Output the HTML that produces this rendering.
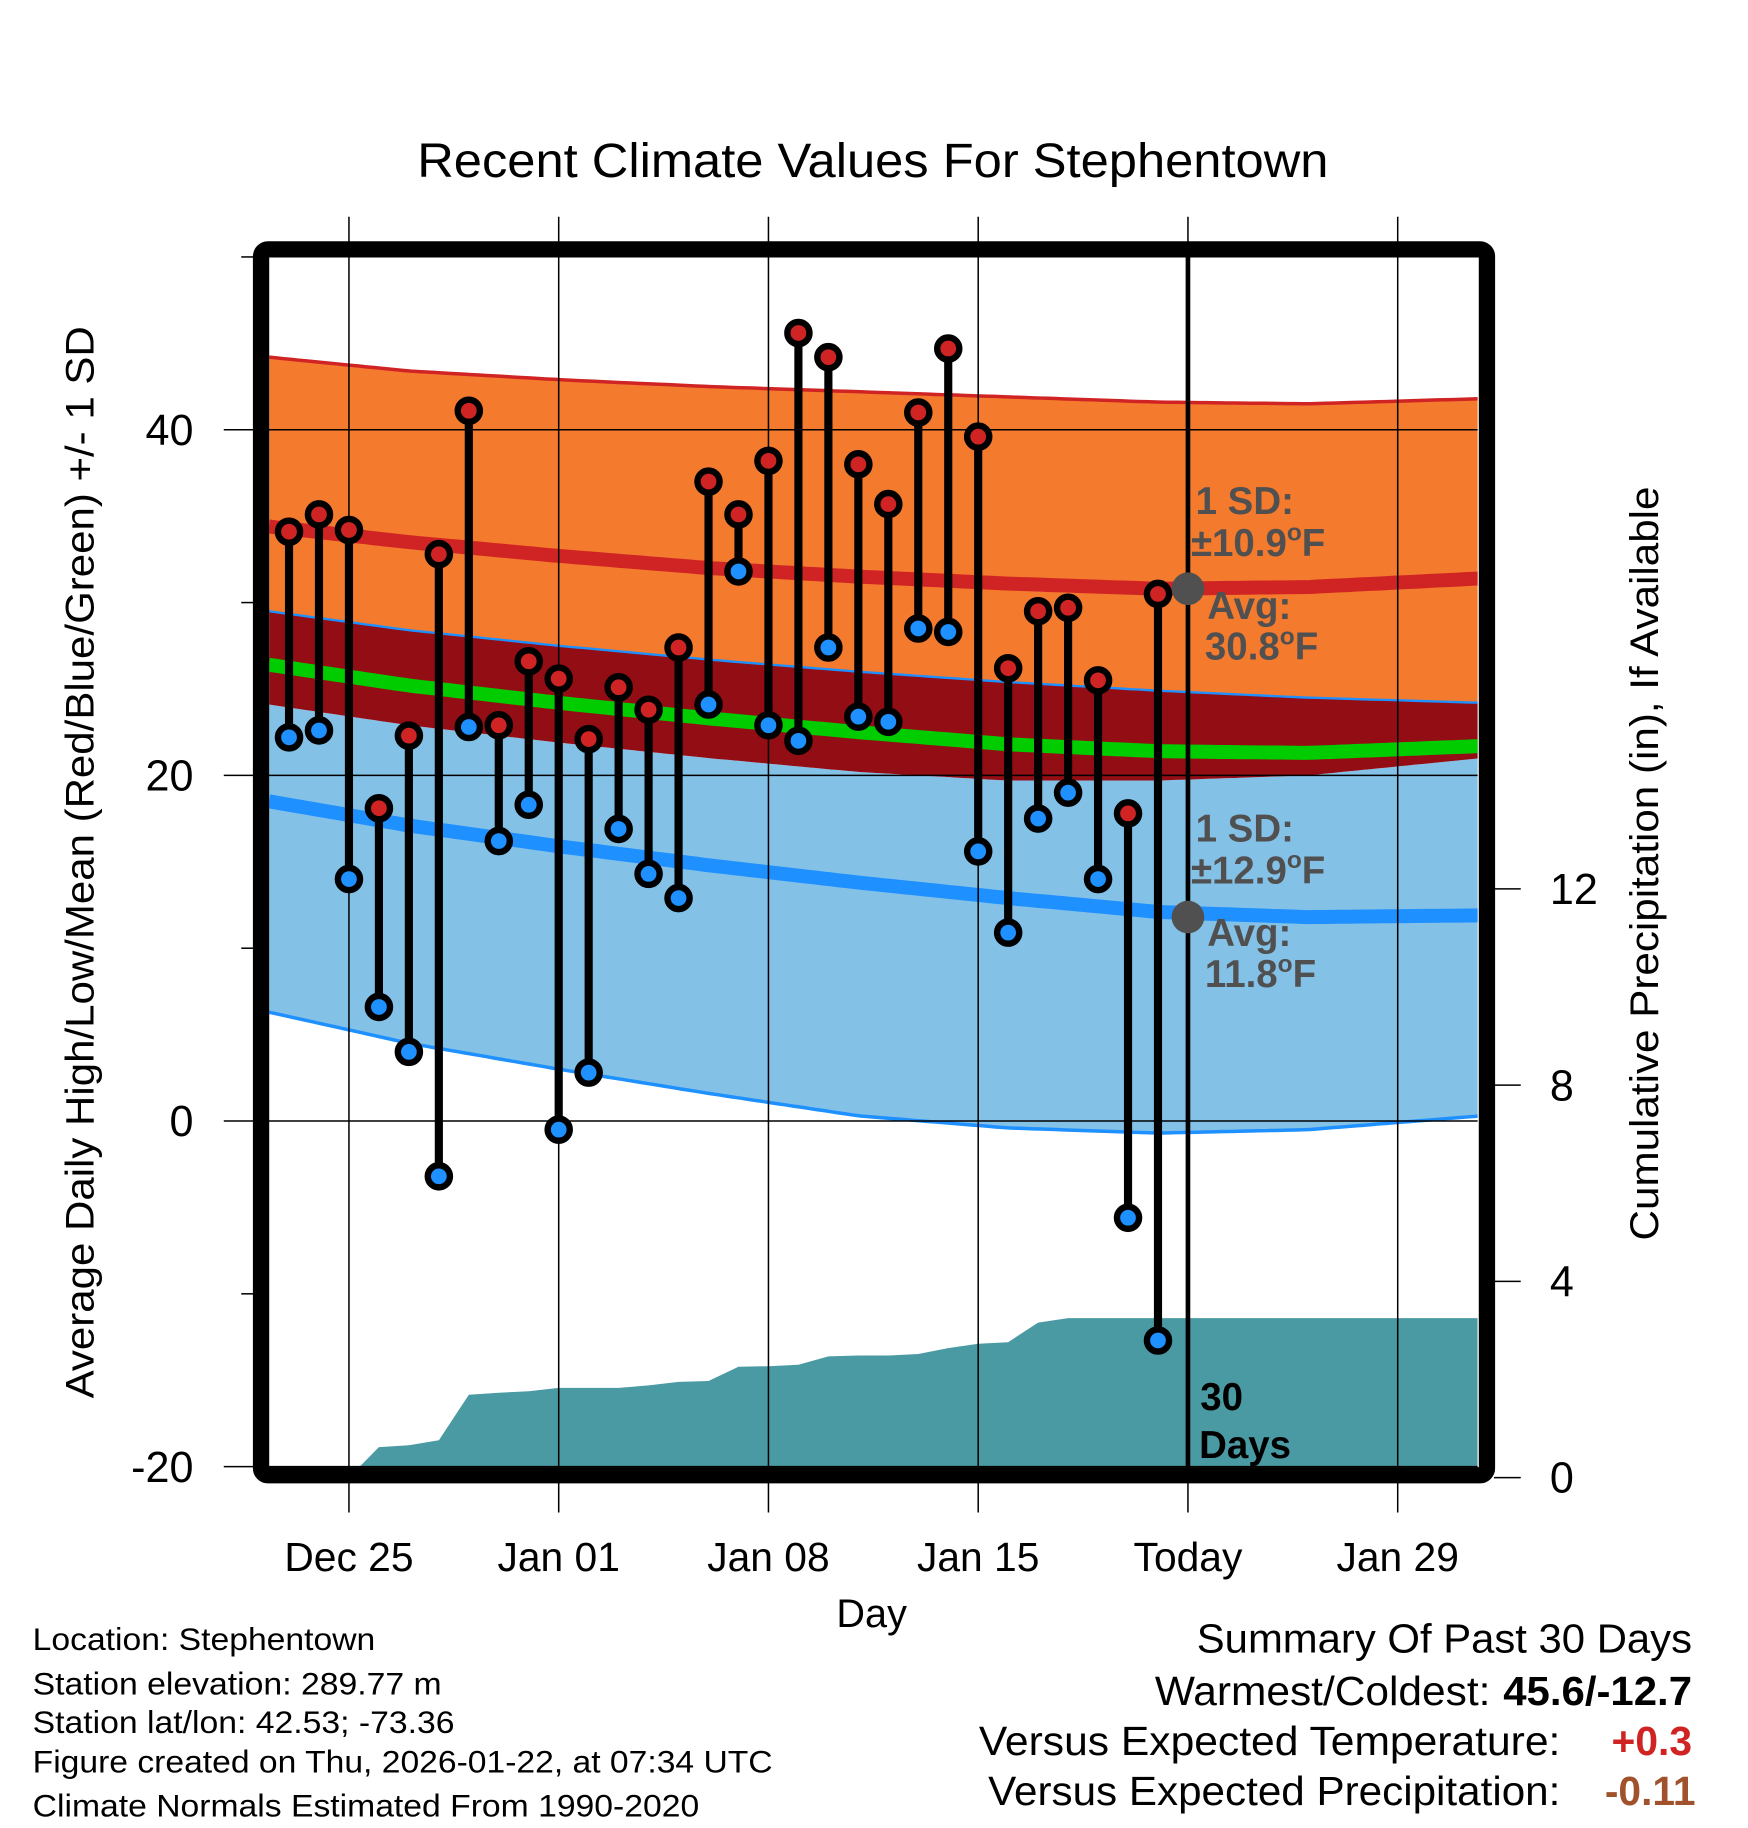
<!DOCTYPE html>
<html><head><meta charset="utf-8"><style>html,body{margin:0;padding:0;background:#fff}svg{display:block}text{font-family:"Liberation Sans",sans-serif}</style></head>
<body>
<svg id="chart" width="1748" height="1828" viewBox="0 0 1500 1568.7" xmlns="http://www.w3.org/2000/svg">
<defs><clipPath id="plotclip"><rect x="231" y="221" width="1037" height="1038"/></clipPath></defs>
<text x="749" y="152" font-size="41" text-anchor="middle" textLength="782" lengthAdjust="spacingAndGlyphs">Recent Climate Values For Stephentown</text>
<g id="gbands" clip-path="url(#plotclip)"></g>
<g id="ggrid"></g>
<g id="gmarks"></g>
<g id="gannot"></g>
<rect x="224" y="214" width="1052" height="1052" rx="6" fill="none" stroke="#000" stroke-width="14"/>
<g id="gaxes"></g>
<text transform="translate(80,740) rotate(-90)" font-size="34" text-anchor="middle" textLength="920" lengthAdjust="spacingAndGlyphs">Average Daily High/Low/Mean (Red/Blue/Green) +/- 1 SD</text>
<text transform="translate(1423,741) rotate(-90)" font-size="34" text-anchor="middle" textLength="647" lengthAdjust="spacingAndGlyphs">Cumulative Precipitation (in), If Available</text>
<text x="748" y="1396" font-size="34" text-anchor="middle">Day</text>
<g font-size="27">
<text x="28" y="1416" textLength="294" lengthAdjust="spacingAndGlyphs">Location: Stephentown</text>
<text x="28" y="1454" textLength="351" lengthAdjust="spacingAndGlyphs">Station elevation: 289.77 m</text>
<text x="28" y="1487" textLength="362" lengthAdjust="spacingAndGlyphs">Station lat/lon: 42.53; -73.36</text>
<text x="28" y="1521" textLength="635" lengthAdjust="spacingAndGlyphs">Figure created on Thu, 2026-01-22, at 07:34 UTC</text>
<text x="28" y="1559" textLength="572" lengthAdjust="spacingAndGlyphs">Climate Normals Estimated From 1990-2020</text>
</g>
<g font-size="35">
<text x="1027" y="1418" textLength="425" lengthAdjust="spacingAndGlyphs">Summary Of Past 30 Days</text>
<text x="991" y="1463" textLength="288" lengthAdjust="spacingAndGlyphs">Warmest/Coldest:</text>
<text x="1290" y="1463" font-weight="bold" textLength="162" lengthAdjust="spacingAndGlyphs">45.6/-12.7</text>
<text x="840" y="1506" textLength="499" lengthAdjust="spacingAndGlyphs">Versus Expected Temperature:</text>
<text x="1452" y="1506" fill="#d02424" font-weight="bold" text-anchor="end">+0.3</text>
<text x="848" y="1549" textLength="491" lengthAdjust="spacingAndGlyphs">Versus Expected Precipitation:</text>
<text x="1455" y="1549" fill="#a0522d" font-weight="bold" text-anchor="end">-0.11</text>
</g>
</svg>
<script>
// data
const dayLabels = ["Dec 23","Dec 24","Dec 25","Dec 26","Dec 27","Dec 28","Dec 29","Dec 30","Dec 31","Jan 01","Jan 02","Jan 03","Jan 04","Jan 05","Jan 06","Jan 07","Jan 08","Jan 09","Jan 10","Jan 11","Jan 12","Jan 13","Jan 14","Jan 15","Jan 16","Jan 17","Jan 18","Jan 19","Jan 20","Jan 21"];
const highs = [34.1,35.1,34.2,18.1,22.3,32.8,41.1,22.9,26.6,25.6,22.1,25.1,23.8,27.4,37.0,35.1,38.2,45.6,44.2,38.0,35.7,41.0,44.7,39.6,26.2,29.5,29.7,25.5,17.8,30.5];
const lows = [22.2,22.6,14.0,6.6,4.0,-3.2,22.8,16.2,18.3,-0.5,2.8,16.9,14.3,12.9,24.1,31.8,22.9,22.0,27.4,23.4,23.1,28.5,28.3,15.6,10.9,17.5,19.0,14.0,-5.6,-12.7];
const precip = [0,0,0,0.62,0.66,0.76,1.69,1.73,1.76,1.83,1.83,1.83,1.88,1.95,1.97,2.26,2.27,2.30,2.47,2.49,2.49,2.52,2.64,2.73,2.76,3.16,3.25,3.25,3.25,3.25];
const normDays = [-0.67,4,9,14,19,24,29,34,39.8];
const highPlus = [44.2,43.4,42.9,42.5,42.2,41.9,41.6,41.5,41.8];
const highMean = [34.4,33.5,32.7,32.0,31.5,31.1,30.8,30.9,31.4];
const highMinus = [29.5,28.4,27.5,26.7,26.0,25.4,24.9,24.5,24.2];
const meanNorm = [26.4,25.2,24.2,23.3,22.5,21.8,21.4,21.3,21.7];
const lowPlus = [24.1,22.9,21.9,21.0,20.2,19.7,19.7,20.0,21.0];
const lowMean = [18.5,17.1,15.9,14.8,13.8,12.9,12.1,11.8,11.9];
const lowMinus = [6.3,4.5,3.0,1.6,0.3,-0.4,-0.7,-0.5,0.3];
const yTicks = [-20,0,20,40];
const yMinor = [-10,10,30,50];
const y2Ticks = [0,4,8,12];
const xTickDays = [2,9,16,23,30,37];
const xTickLabels = ["Dec 25","Jan 01","Jan 08","Jan 15","Today","Jan 29"];

const NS="http://www.w3.org/2000/svg";
const X = d => 248 + d*25.714;
const Y = t => 962 - t*14.83;
const Y2 = p => 1268 - p*42.1;
function mk(tag, attrs, parent){const e=document.createElementNS(NS,tag);for(const k in attrs)e.setAttribute(k,attrs[k]);parent.appendChild(e);return e;}
const gb=document.getElementById('gbands'),gg=document.getElementById('ggrid'),gm=document.getElementById('gmarks'),ga=document.getElementById('gaxes'),gn=document.getElementById('gannot');
function sample(arr){const pts=[];const last=normDays[normDays.length-1];for(let d=normDays[0];d<=last+0.2;d+=0.25){const dd=Math.min(d,last);let i=0;while(i<normDays.length-2&&dd>normDays[i+1])i++;const f=(dd-normDays[i])/(normDays[i+1]-normDays[i]);pts.push([X(dd),Y(arr[i]+(arr[i+1]-arr[i])*f)]);}return pts;}
function band(top,bot,fill,name){const a=sample(top),b=sample(bot).reverse();const p=mk('path',{d:'M'+a.concat(b).map(q=>q[0].toFixed(1)+','+q[1].toFixed(1)).join('L')+'Z',fill:fill},gb);}
function line(arr,col,w,name){const p=mk('path',{d:'M'+sample(arr).map(q=>q[0].toFixed(1)+','+q[1].toFixed(1)).join('L'),fill:'none',stroke:col,'stroke-width':w},gb);}
band(highPlus,highMinus,'#f47a2e','high-sd-band');
band(lowPlus,lowMinus,'#84c1e7','low-sd-band');
band(highMinus,lowPlus,'#930d15','overlap-band');
line(highPlus,'#d02424',3,'high-plus-sd-line');
line(highMinus,'#1e90ff',2,'high-minus-sd-line');
line(lowMinus,'#1e90ff',3,'low-minus-sd-line');
line(highMean,'#d02424',12,'normal-high-line');
line(lowMean,'#1e90ff',12,'normal-low-line');
line(meanNorm,'#00cc00',12,'normal-mean-line');
{let d='M231,'+Y2(0);precip.forEach((p,i)=>{d+='L'+X(i).toFixed(1)+','+Y2(p).toFixed(1);});d+='L1268,'+Y2(precip[precip.length-1]).toFixed(1)+'L1268,1270L231,1270Z';const p=mk('path',{d:d,fill:'#4a9aa3'},gb);
const l=mk('line',{x1:231,y1:1259,x2:X(2),y2:1259,stroke:'#333','stroke-width':2},gb);}
xTickDays.forEach((d,i)=>{const l=mk('line',{x1:X(d),y1:186,x2:X(d),y2:1298,stroke:'#000','stroke-width':1.3},gg);
const t=mk('text',{x:X(d),y:1348,'font-size':35,'text-anchor':'middle'},ga);t.textContent=xTickLabels[i];});
yTicks.forEach(v=>{const l=mk('line',{x1:192,y1:Y(v),x2:1268,y2:Y(v),stroke:'#000','stroke-width':1.3},gg);
const t=mk('text',{x:166,y:Y(v)+13,'font-size':37,'text-anchor':'end'},ga);t.textContent=v;});
yMinor.forEach(v=>{const l=mk('line',{x1:207,y1:Y(v),x2:218,y2:Y(v),stroke:'#000','stroke-width':1.3},gg);});
y2Ticks.forEach(v=>{const l=mk('line',{x1:1282,y1:Y2(v),x2:1305,y2:Y2(v),stroke:'#000','stroke-width':1.3},ga);
const t=mk('text',{x:1330,y:Y2(v)+13,'font-size':37},ga);t.textContent=v;});
{const l=mk('line',{x1:X(30),y1:221,x2:X(30),y2:1259,stroke:'#000','stroke-width':4},gg);}
highs.forEach((h,i)=>{const x=X(i);
const s=mk('line',{x1:x,y1:Y(h),x2:x,y2:Y(lows[i]),stroke:'#000','stroke-width':7},gm);});
highs.forEach((h,i)=>{const x=X(i);
const a=mk('circle',{cx:x,cy:Y(h),r:9.5,fill:'#d02424',stroke:'#000','stroke-width':5.5},gm);
const b=mk('circle',{cx:x,cy:Y(lows[i]),r:9.5,fill:'#1e90ff',stroke:'#000','stroke-width':5.5},gm);});
function txt(x,y,s,sz,col,name){const t=mk('text',{x:x,y:y,'font-size':sz,'font-weight':'bold',fill:col},gn);t.innerHTML=s;}
const tx=X(30);
{const c=mk('circle',{cx:tx,cy:Y(highMean[6]),r:14,fill:'#505050'},gn);
const c2=mk('circle',{cx:tx,cy:Y(lowMean[7]),r:14,fill:'#505050'},gn);}
const sup='<tspan dy="-13" font-size="21">o</tspan><tspan dy="13">F</tspan>';
txt(1026,441,'1 SD:',33,'#505050','high-sd-label');
txt(1022,477,'±10.9'+sup,33,'#505050','high-sd-value');
txt(1036,531,'Avg:',33,'#505050','high-avg-label');
txt(1034,566,'30.8'+sup,33,'#505050','high-avg-value');
txt(1026,722,'1 SD:',33,'#505050','low-sd-label');
txt(1022,758,'±12.9'+sup,33,'#505050','low-sd-value');
txt(1036,812,'Avg:',33,'#505050','low-avg-label');
txt(1034,847,'11.8'+sup,33,'#505050','low-avg-value');
txt(1030,1210,'30',33,'#000','days-count');
txt(1029,1251,'Days',33,'#000','days-label');
</script>
</body></html>
